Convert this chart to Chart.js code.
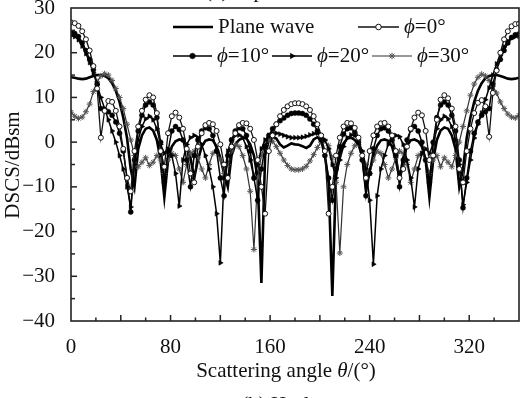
<!DOCTYPE html>
<html>
<head>
<meta charset="utf-8">
<script src="https://cdn.jsdelivr.net/npm/chart.js@4.4.0/dist/chart.umd.min.js"></script>
<style>
    html, body { margin: 0; padding: 0; background: #fff; overflow: hidden; }
    canvas { display: block; }
</style>
</head>
<body>
<canvas id="chartDscs" width="524" height="398"></canvas>
<script>
// scattering angle grid, degrees (0 .. 360, every 3)
const angles = [];
for (let a = 0; a <= 360; a += 3) angles.push(a);

// DSCS values in dBsm
const planeWave = [
    14.5, 14.4, 14.2, 14.1, 14.2, 14.5, 14.8, 15.0, 15.0, 14.8,
    14.3, 13.2, 11.5, 9.0, 5.5, 1.0, -6.0, -10.0, -1.5, 1.5,
    3.0, 3.3, 2.6, 0.5, -4.0, -12.3, -4.0, -1.0, 0.2, 0.6,
    0.4, -0.8, -3.5, -8.0, -4.0, -1.0, 0.3, 0.6, 0.4, -1.0,
    -3.5, -7.0, -10.0, -3.0, -0.5, 0.5, 1.0, 0.8, -0.5, -3.0,
    -8.0, -31.5, -3.0, 0.5, 1.2, 0.8, -0.5, -1.2, -0.8, -0.3,
    -0.5,
    -0.6, -0.9, -1.3, -0.8, 0.6, 1.1, 0.4, -3.0, -9.0, -34.4,
    -7.0, -2.5, -0.3, 0.8, 1.0, 0.5, -0.6, -3.0, -10.0, -6.5,
    -3.0, -0.8, 0.4, 0.6, 0.3, -1.0, -4.0, -8.0, -3.5, -0.8,
    0.4, 0.6, 0.2, -1.0, -4.0, -12.3, -4.0, 0.5, 2.6, 3.3,
    3.0, 1.5, -1.5, -10.0, -6.0, 1.0, 5.5, 9.0, 11.5, 13.2,
    14.3, 14.8, 15.0, 15.0, 14.8, 14.5, 14.2, 14.1, 14.2, 14.4
];
const phi0 = [
    26.8, 26.6, 26.0, 24.8, 23.0, 20.5, 17.0, 12.0, 1.0, 7.0,
    9.2, 9.0, 7.0, 3.5, -1.5, -8.0, -11.0, -2.0, 3.5, 7.0,
    9.5, 10.5, 10.0, 6.5, -2.0, -5.5, 2.0, 5.8, 6.6, 5.5,
    3.0, -1.5, -7.0, -9.0, -1.0, 2.0, 3.8, 4.3, 4.0, 2.5,
    -0.5, -5.0, -8.0, -1.0, 2.0, 3.8, 4.3, 4.2, 3.0, 0.5,
    -4.0, -10.0, -16.0, -2.0, 1.5, 4.0, 5.8, 7.2, 8.0, 8.5,
    8.7,
    8.7, 8.5, 8.0, 7.2, 5.8, 4.0, 1.5, -2.0, -16.0, -10.0,
    -3.0, 1.0, 3.5, 4.3, 4.2, 3.2, 1.0, -3.0, -8.0, -2.0,
    1.5, 3.5, 4.2, 4.3, 3.5, 1.5, -2.0, -8.0, -6.0, -1.0,
    3.0, 5.5, 6.6, 6.0, 2.5, -4.0, -3.0, 5.0, 9.5, 10.5,
    9.8, 7.5, 3.5, -6.0, -9.0, -2.0, 3.0, 6.5, 8.8, 9.4,
    8.0, 1.2, 11.0, 16.0, 20.0, 23.0, 24.8, 25.9, 26.4, 26.5
];
const phi10 = [
    24.5, 24.3, 23.6, 22.2, 20.5, 18.5, 16.2, 13.0, 7.5, 7.2,
    6.8, 6.0, 4.5, 2.0, -2.0, -8.0, -15.6, -4.0, 2.5, 6.0,
    8.3, 9.0, 8.3, 5.5, 0.0, -9.0, -2.0, 2.5, 3.5, 2.8,
    0.5, -4.0, -10.0, -3.0, 0.5, 2.5, 3.2, 3.0, 1.5, -2.0,
    -8.0, -12.0, -3.0, 0.5, 2.5, 3.2, 3.0, 1.5, -2.0, -8.0,
    -13.0, -6.0, -1.0, 1.5, 3.0, 4.0, 4.8, 5.4, 6.0, 6.4,
    6.5,
    6.5, 6.4, 6.0, 5.2, 4.0, 2.5, 0.5, -3.0, -8.0, -13.0,
    -6.0, -1.0, 1.8, 3.0, 3.2, 2.2, 0.0, -4.0, -12.0, -7.0,
    -1.5, 1.5, 3.0, 3.2, 2.5, 0.5, -3.0, -10.0, -4.0, 0.5,
    2.8, 3.5, 2.5, 0.0, -4.0, -9.0, 0.0, 5.5, 8.3, 9.0,
    8.3, 6.0, 2.5, -4.0, -14.7, -8.0, -2.0, 2.0, 4.5, 6.0,
    6.8, 7.5, 13.0, 16.2, 18.5, 20.5, 22.2, 23.4, 24.0, 24.2
];
const phi20 = [
    23.8, 23.6, 22.9, 21.5, 19.8, 17.8, 15.5, 12.8, 10.0, 7.5,
    5.0, 2.5, 0.0, -3.0, -6.0, -10.0, -14.5, -5.0, 0.5, 3.5,
    5.2, 5.8, 5.0, 3.0, -0.5, -2.5, -1.5, -3.0, -7.0, -14.3,
    -4.0, -0.5, 1.0, 1.5, 1.0, -0.5, -3.0, -6.0, -10.0, -16.0,
    -27.0, -8.0, -2.0, 0.5, 1.5, 1.6, 1.0, -1.0, -4.0, -8.0,
    -5.0, -1.5, 0.5, 1.5, 2.0, 2.0, 1.8, 1.5, 1.2, 1.0,
    1.0,
    1.0, 1.1, 1.3, 1.6, 1.9, 2.0, 1.6, 0.5, -1.5, -5.0,
    -8.0, -4.0, -1.0, 1.0, 1.6, 1.5, 0.5, -2.0, -6.0, -13.0,
    -27.3, -12.0, -6.0, -3.0, -0.5, 1.0, 1.5, 1.2, -0.5, -4.0,
    -8.0, -14.5, -6.0, -2.5, -1.5, -2.5, -0.5, 3.0, 5.0, 5.8,
    5.2, 3.5, 0.5, -5.0, -14.0, -9.0, -4.0, 0.9, 4.0, 6.5,
    9.5, 12.1, 15.0, 17.5, 19.5, 21.3, 22.6, 23.3, 23.6, 23.7
];
const phi30 = [
    6.7, 5.8, 5.3, 5.6, 6.8, 8.5, 11.3, 13.5, 14.8, 15.3,
    15.0, 13.8, 12.0, 10.0, 7.5, 4.0, 0.5, -3.0, -5.5, -4.5,
    -3.5, -5.2, -4.5, -3.0, -4.0, -7.0, -4.0, -2.5, -3.0, -6.0,
    -9.0, -5.0, -2.5, -2.0, -3.5, -6.0, -8.0, -5.0, -2.5, -2.0,
    -4.0, -7.0, -5.0, -2.0, -0.5, -1.0, -3.0, -6.0, -11.0, -24.0,
    -8.0, -3.0, -0.5, 0.5, 0.2, -1.0, -2.5, -4.0, -5.2, -6.0,
    -6.2,
    -6.2, -6.0, -5.4, -4.2, -2.8, -1.2, 0.0, 0.3, -0.8, -3.5,
    -9.0, -24.8, -10.0, -5.0, -2.5, -0.8, -0.5, -2.2, -5.0, -7.0,
    -4.0, -2.0, -2.5, -5.0, -8.0, -6.0, -3.5, -2.0, -2.5, -5.0,
    -9.0, -6.0, -3.0, -2.5, -4.0, -7.0, -4.0, -3.0, -5.5, -3.5,
    -4.5, -5.5, -3.0, 0.0, 3.5, 7.0, 10.5, 13.0, 14.5, 15.2,
    14.8, 13.8, 12.5, 11.0, 9.0, 7.5, 6.3, 5.6, 5.4, 6.0
];

const xTicks = [0, 80, 160, 240, 320];
const yTicks = [-40, -30, -20, -10, 0, 10, 20, 30];

const SERIF = '"Liberation Serif", "Times New Roman", serif';
const INK = '#111';

function toPoints(values) {
    return angles.map((a, i) => ({ x: a, y: values[i] }));
}

// legend sample: short line with one marker in the middle, like the paper
function legendItem(ctx, ds, x1, x2, y, parts) {
    ctx.save();
    ctx.strokeStyle = ds.borderColor;
    ctx.lineWidth = ds.borderWidth;
    ctx.beginPath();
    ctx.moveTo(x1, y);
    ctx.lineTo(x2, y);
    ctx.stroke();
    if (ds.pointRadius > 0) {
        ctx.fillStyle = ds.pointBackgroundColor;
        ctx.strokeStyle = ds.pointBorderColor;
        ctx.lineWidth = ds.pointBorderWidth;
        Chart.helpers.drawPoint(ctx, {
            pointStyle: ds.pointStyle,
            radius: ds.pointRadius + 0.3,
            rotation: ds.pointRotation || 0,
            borderWidth: ds.pointBorderWidth
        }, (x1 + x2) / 2, y);
    }
    ctx.restore();
    drawRich(ctx, parts, x2 + 5, y, 'left');
}

// text with italic pieces; parts = [[text, italic], ...]
function drawRich(ctx, parts, x, y, align) {
    ctx.save();
    ctx.fillStyle = INK;
    ctx.textBaseline = 'middle';
    ctx.textAlign = 'left';
    let total = 0;
    parts.forEach(p => {
        ctx.font = (p[1] ? 'italic ' : '') + '21px ' + SERIF;
        total += ctx.measureText(p[0]).width;
    });
    let cx = align === 'center' ? x - total / 2 : x;
    parts.forEach(p => {
        ctx.font = (p[1] ? 'italic ' : '') + '21px ' + SERIF;
        ctx.fillText(p[0], cx, y);
        cx += ctx.measureText(p[0]).width;
    });
    ctx.restore();
}

const decorPlugin = {
    id: 'decor',
    afterDraw(chart) {
        const { ctx, chartArea: a, scales: { x, y } } = chart;
        const sets = chart.data.datasets;

        ctx.save();
        // frame
        ctx.strokeStyle = '#222';
        ctx.lineWidth = 1.6;
        ctx.strokeRect(a.left, a.top, a.right - a.left, a.bottom - a.top);

        // inward ticks
        ctx.lineWidth = 1.5;
        for (let v = 20; v < 360; v += 20) {
            const px = x.getPixelForValue(v);
            const len = v % 40 === 0 ? 6 : 3.5;
            ctx.beginPath();
            ctx.moveTo(px, a.bottom);
            ctx.lineTo(px, a.bottom - len);
            ctx.stroke();
        }
        for (let v = -35; v < 30; v += 5) {
            const py = y.getPixelForValue(v);
            const len = v % 10 === 0 ? 6 : 4;
            ctx.beginPath();
            ctx.moveTo(a.left, py);
            ctx.lineTo(a.left + len, py);
            ctx.stroke();
        }
        ctx.restore();

        // legend, two rows inside the plot
        legendItem(ctx, sets[4], 173, 213, 27, [['Plane wave', false]]);
        legendItem(ctx, sets[0], 358, 399, 27, [['\u03D5', true], ['=0\u00B0', false]]);
        legendItem(ctx, sets[1], 173, 212, 56, [['\u03D5', true], ['=10\u00B0', false]]);
        legendItem(ctx, sets[2], 272, 312, 56, [['\u03D5', true], ['=20\u00B0', false]]);
        legendItem(ctx, sets[3], 372, 412, 56, [['\u03D5', true], ['=30\u00B0', false]]);

        // axis titles
        drawRich(ctx, [['Scattering angle ', false], ['\u03B8', true], ['/(\u00B0)', false]], 286, 371, 'center');
        ctx.save();
        ctx.translate(13, 165);
        ctx.rotate(-Math.PI / 2);
        drawRich(ctx, [['DSCS/dBsm', false]], 0, 0, 'center');
        ctx.restore();

        // sub-captions cut by the picture edges
        drawRich(ctx, [['(a) E-plane', false]], 252, -9, 'center');
        drawRich(ctx, [['(b) H-plane', false]], 290, 405, 'center');
    }
};

const chartDscs = document.getElementById('chartDscs');

new Chart(chartDscs, {
    type: 'line',
    data: {
        datasets: [
            {
                label: '\u03D5=0\u00B0',
                data: toPoints(phi0),
                borderColor: '#111',
                borderWidth: 1.3,
                pointStyle: 'circle',
                pointRadius: 2.5,
                pointBackgroundColor: '#fff',
                pointBorderColor: '#111',
                pointBorderWidth: 1
            },
            {
                label: '\u03D5=10\u00B0',
                data: toPoints(phi10),
                borderColor: '#000',
                borderWidth: 1.5,
                pointStyle: 'circle',
                pointRadius: 2.5,
                pointBackgroundColor: '#000',
                pointBorderColor: '#000',
                pointBorderWidth: 0.5
            },
            {
                label: '\u03D5=20\u00B0',
                data: toPoints(phi20),
                borderColor: '#000',
                borderWidth: 1.5,
                pointStyle: 'triangle',
                pointRotation: 90,
                pointRadius: 2.8,
                pointBackgroundColor: '#000',
                pointBorderColor: '#000',
                pointBorderWidth: 0.6
            },
            {
                label: '\u03D5=30\u00B0',
                data: toPoints(phi30),
                borderColor: '#333',
                borderWidth: 1.2,
                pointStyle: 'star',
                pointRadius: 3,
                pointBackgroundColor: '#555',
                pointBorderColor: '#555',
                pointBorderWidth: 1
            },
            {
                label: 'Plane wave',
                data: toPoints(planeWave),
                borderColor: '#000',
                borderWidth: 2.6,
                pointRadius: 0
            }
        ]
    },
    options: {
        responsive: false,
        animation: false,
        devicePixelRatio: 1,
        layout: { padding: { left: 0, right: 2, top: 8, bottom: 0 } },
        plugins: {
            legend: { display: false },
            tooltip: { enabled: false }
        },
        scales: {
            x: {
                type: 'linear',
                min: 0,
                max: 360,
                grid: { display: false },
                border: { display: false },
                afterBuildTicks: s => { s.ticks = xTicks.map(v => ({ value: v })); },
                afterFit: s => { s.height = 77; s.paddingLeft = 0; s.paddingRight = 0; },
                ticks: {
                    font: { family: SERIF, size: 21 },
                    color: INK,
                    padding: 6,
                    maxRotation: 0
                }
            },
            y: {
                min: -40,
                max: 30,
                grid: { display: false },
                border: { display: false },
                afterBuildTicks: s => { s.ticks = yTicks.map(v => ({ value: v })); },
                afterFit: s => { s.width = 71; s.paddingTop = 0; s.paddingBottom = 0; },
                ticks: {
                    font: { family: SERIF, size: 21 },
                    color: INK,
                    padding: 8,
                    callback: v => String(v).replace('-', '\u2212')
                }
            }
        }
    },
    plugins: [decorPlugin]
});
</script>
</body>
</html>
